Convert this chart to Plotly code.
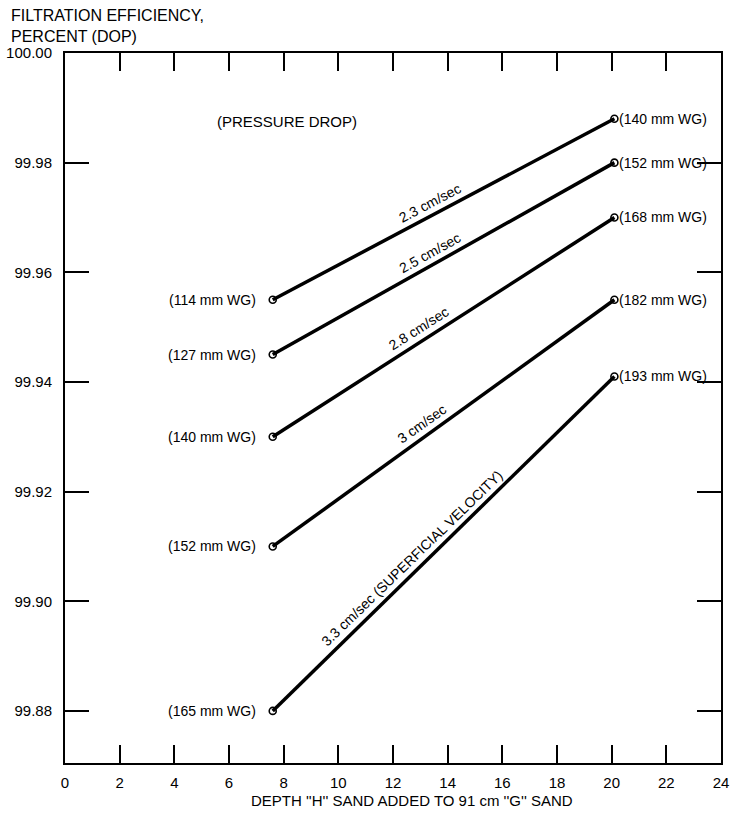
import math
import plotly.graph_objects as go

# Sand filter performance: efficiency vs. depth of added "H" sand
velocities = ["2.3 cm/sec", "2.5 cm/sec", "2.8 cm/sec", "3 cm/sec",
              "3.3 cm/sec (SUPERFICIAL VELOCITY)"]
depth_start = [7.6, 7.6, 7.6, 7.6, 7.6]
depth_end = [20.1, 20.1, 20.1, 20.1, 20.1]
eff_start = [99.955, 99.945, 99.930, 99.910, 99.880]
eff_end = [99.988, 99.980, 99.970, 99.955, 99.941]
dp_start = ["(114 mm WG)", "(127 mm WG)", "(140 mm WG)", "(152 mm WG)", "(165 mm WG)"]
dp_end = ["(140 mm WG)", "(152 mm WG)", "(168 mm WG)", "(182 mm WG)", "(193 mm WG)"]
label_depth = [13.55, 13.55, 13.2, 13.3, 13.0]

x_ticks = list(range(0, 25, 2))
y_ticks = [99.88, 99.90, 99.92, 99.94, 99.96, 99.98, 100.00]
y_tick_text = ["99.88", "99.90", "99.92", "99.94", "99.96", "99.98", "100.00"]

W, H = 735, 815
M = dict(l=65, r=6, t=53, b=52)
X_RANGE = [0, 24]
Y_RANGE = [99.8705, 100.0]
FONT = "Liberation Sans"

plot_w = W - M["l"] - M["r"]
plot_h = H - M["t"] - M["b"]
px_per_x = plot_w / (X_RANGE[1] - X_RANGE[0])
px_per_y = plot_h / (Y_RANGE[1] - Y_RANGE[0])

fig = go.Figure()
annotations = []

for i, name in enumerate(velocities):
    xs = [depth_start[i], depth_end[i]]
    ys = [eff_start[i], eff_end[i]]
    fig.add_trace(go.Scatter(
        x=xs, y=ys, mode="lines+markers", name=name,
        line=dict(color="black", width=3.5),
        marker=dict(symbol="circle-open", size=7, color="black",
                    line=dict(width=1.6, color="black")),
        showlegend=False, hoverinfo="skip"))

    # pressure drop labels at both ends
    annotations.append(dict(x=xs[0], y=ys[0], text=dp_start[i], showarrow=False,
                            xanchor="right", yanchor="middle", xshift=-15,
                            font=dict(family=FONT, size=14, color="black")))
    annotations.append(dict(x=xs[1], y=ys[1], text=dp_end[i], showarrow=False,
                            xanchor="left", yanchor="middle", xshift=3,
                            font=dict(family=FONT, size=14, color="black")))

    # velocity label running along the line
    dx = (xs[1] - xs[0]) * px_per_x
    dy = (ys[1] - ys[0]) * px_per_y
    theta = math.atan2(dy, dx)
    lx = label_depth[i]
    ly = ys[0] + (ys[1] - ys[0]) * (lx - xs[0]) / (xs[1] - xs[0])
    d = 12
    annotations.append(dict(x=lx, y=ly, text=name, showarrow=False,
                            textangle=-math.degrees(theta),
                            xshift=-d * math.sin(theta), yshift=d * math.cos(theta),
                            font=dict(family=FONT, size=14, color="black")))

annotations.append(dict(x=5.5, y=99.9875, text="(PRESSURE DROP)", showarrow=False,
                        xanchor="left", yanchor="middle",
                        font=dict(family=FONT, size=15, color="black")))

# axis captions
annotations.append(dict(xref="paper", yref="paper",
                        x=(8 - M["l"]) / plot_w, y=(H - M["b"] - 15.5) / plot_h,
                        text="FILTRATION EFFICIENCY,", showarrow=False,
                        xanchor="left", yanchor="middle",
                        font=dict(family=FONT, size=16, color="black")))
annotations.append(dict(xref="paper", yref="paper",
                        x=(8 - M["l"]) / plot_w, y=(H - M["b"] - 36.5) / plot_h,
                        text="PERCENT (DOP)", showarrow=False,
                        xanchor="left", yanchor="middle",
                        font=dict(family=FONT, size=16, color="black")))
annotations.append(dict(xref="paper", yref="paper",
                        x=(416 - M["l"]) / plot_w, y=(H - M["b"] - 800) / plot_h,
                        text="DEPTH ''H'' SAND ADDED TO 91 cm ''G'' SAND", showarrow=False,
                        xanchor="center", yanchor="middle",
                        font=dict(family=FONT, size=15, color="black")))

fig.update_layout(
    width=W, height=H, margin=M,
    paper_bgcolor="white", plot_bgcolor="white",
    annotations=annotations,
    xaxis=dict(range=X_RANGE, tickvals=x_ticks, ticktext=[str(v) for v in x_ticks],
               ticks="inside", ticklen=18, tickwidth=1.5, tickcolor="black",
               showline=True, linewidth=2, linecolor="black", mirror="ticks",
               showgrid=False, zeroline=False, ticklabelstandoff=5,
               ticklabeloverflow="allow",
               tickfont=dict(family=FONT, size=15, color="black")),
    yaxis=dict(range=Y_RANGE, tickvals=y_ticks, ticktext=y_tick_text,
               ticks="inside", ticklen=24, tickwidth=1.5, tickcolor="black",
               showline=True, linewidth=2, linecolor="black", mirror="ticks",
               showgrid=False, zeroline=False, ticklabelstandoff=8,
               ticklabeloverflow="allow",
               tickfont=dict(family=FONT, size=15, color="black")),
)

fig.write_html("out.html")
